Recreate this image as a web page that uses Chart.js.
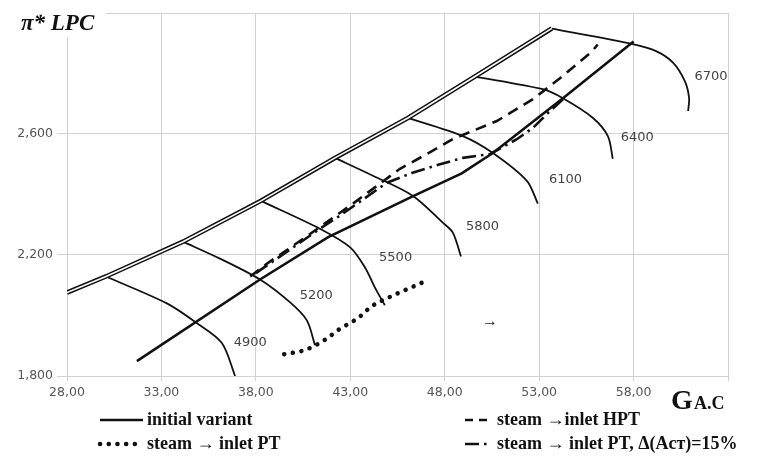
<!DOCTYPE html>
<html>
<head>
<meta charset="utf-8">
<script src="https://cdn.jsdelivr.net/npm/chart.js@4/dist/chart.umd.min.js"></script>
<style>
  body { margin: 0; background: #fff; }
  canvas { display: block; }
</style>
</head>
<body>
<canvas id="mapa" width="760" height="459"></canvas>
<script>
// osa X: G A.C, osa Y: pi* LPC
const xTicks = [28, 33, 38, 43, 48, 53, 58, 63];
const yTicks = [1.8, 2.2, 2.6, 3.0];

// granica pompazu (podwojna linia)
const surge = [[28, 2.076], [30.06, 2.129], [34.14, 2.244], [38.27, 2.379], [42.19, 2.521], [46.05, 2.653], [49.6, 2.790], [53.67, 2.949]];

// charakterystyki obrotow
const speedNames = ['4900', '5200', '5500', '5800', '6100', '6400', '6700'];
const n4900 = [[30.06, 2.129], [33.29, 2.040], [34.87, 1.975], [36.2, 1.909], [36.9, 1.80]];
const n5200 = [[34.14, 2.244], [36.1, 2.188], [38.22, 2.119], [39.8, 2.044], [40.7, 1.984], [41.13, 1.902]];
const n5500 = [[38.27, 2.379], [41.39, 2.287], [42.98, 2.226], [43.78, 2.159], [44.3, 2.093], [44.83, 2.034]];
const n5800 = [[42.19, 2.521], [44.2, 2.462], [46.3, 2.396], [47.9, 2.307], [48.43, 2.274], [48.86, 2.195]];
const n6100 = [[46.05, 2.653], [48.96, 2.593], [50.55, 2.537], [52.35, 2.445], [52.93, 2.370]];
const n6400 = [[49.6, 2.790], [53.2, 2.748], [54.26, 2.718], [55.85, 2.653], [56.64, 2.593], [56.9, 2.518]];
const n6700 = [[53.67, 2.948], [57.96, 2.897], [59.22, 2.873], [60.1, 2.835], [60.72, 2.774], [60.94, 2.719], [60.89, 2.676]];
const speedLines = [n4900, n5200, n5500, n5800, n6100, n6400, n6700];
// gdzie stoja napisy obrotow
const speedLabelPos = [[37.7, 1.909], [41.2, 2.067], [45.4, 2.192], [50.0, 2.294], [54.4, 2.448], [58.2, 2.587], [62.1, 2.791]];

// linie pracy
const initialVariant = [[31.7, 1.849], [38.22, 2.119], [41.83, 2.259], [46.3, 2.394], [48.9, 2.470], [50.55, 2.537], [54.26, 2.718], [58.0, 2.906]];
const steamHPT = [[37.7, 2.129], [38.6, 2.172], [40.7, 2.262], [43.1, 2.368], [45.63, 2.485], [47.06, 2.534], [48.43, 2.583], [50.76, 2.643], [52.67, 2.715], [54.1, 2.784], [55.8, 2.873], [56.1, 2.896]];
const steamPT = [[39.5, 1.872], [40.1, 1.878], [40.6, 1.885], [41.1, 1.899], [41.57, 1.916], [42.0, 1.935], [42.42, 1.955], [43.4, 1.99], [44.1, 2.03], [44.6, 2.047], [45.5, 2.073], [46.5, 2.100], [46.95, 2.113]];
const steamPT15 = [[38.0, 2.14], [41.4, 2.287], [42.45, 2.330], [44.94, 2.439], [46.3, 2.472], [47.75, 2.500], [48.96, 2.521], [50.4, 2.534], [51.8, 2.582], [52.69, 2.621], [53.46, 2.669], [54.26, 2.715]];
const arrowPos = [50.4, 1.978];

const legendLabels = ['initial variant', 'steam \u2192 inlet PT', 'steam \u2192inlet HPT', 'steam \u2192 inlet PT, \u0394(Ac\u0442)=15%'];

const pts = (arr) => arr.map(([x, y]) => ({ x, y }));
const fmtComma = (v, d) => v.toFixed(d).replace('.', ',');

const linia = (data, extra) => Object.assign({
  data: pts(data),
  borderColor: '#111',
  borderWidth: 1.8,
  pointRadius: 0,
  fill: false,
  tension: 0
}, extra);

// dataset 0 rysuje sie na koncu, wiec biala szczelina idzie pierwsza
const datasets = [
  linia(surge, { borderWidth: 1.6, borderColor: '#fff' }),
  linia(surge, { borderWidth: 4.6 }),
  ...speedLines.map((s) => linia(s, { tension: 0.3 })),
  linia(initialVariant, { borderWidth: 2.6 }),
  linia(steamHPT, { borderWidth: 2.6, borderDash: [11, 7] }),
  linia(steamPT15, { borderWidth: 2.6, borderDash: [14, 5, 2.5, 5] }),
  linia(steamPT, { borderWidth: 4.5, borderDash: [0.1, 8.6], borderCapStyle: 'round' })
];

const napisy = {
  id: 'napisy',
  afterDraw(chart) {
    const { ctx, scales: { x, y } } = chart;
    ctx.save();
    // numery obrotow
    ctx.fillStyle = '#444';
    ctx.font = '13px "DejaVu Sans"';
    ctx.textAlign = 'center';
    ctx.textBaseline = 'middle';
    speedNames.forEach((t, i) => {
      ctx.fillText(t, x.getPixelForValue(speedLabelPos[i][0]), y.getPixelForValue(speedLabelPos[i][1]));
    });
    ctx.fillStyle = '#222';
    ctx.font = '16px "Liberation Serif"';
    ctx.fillText('\u2192', x.getPixelForValue(arrowPos[0]), y.getPixelForValue(arrowPos[1]));

    // tytul osi Y
    ctx.fillStyle = '#fff';
    ctx.fillRect(0, 0, 106, 37);
    ctx.fillStyle = '#111';
    ctx.textAlign = 'left';
    ctx.textBaseline = 'alphabetic';
    ctx.font = 'bold italic 23px "Liberation Serif"';
    ctx.fillText('\u03c0* LPC', 21, 30);

    // tytul osi X
    ctx.font = 'bold 28px "Liberation Serif"';
    ctx.fillText('G', 671, 409);
    ctx.font = 'bold 18px "Liberation Serif"';
    ctx.fillText('A.C', 694, 409);

    // legenda
    ctx.font = 'bold 18px "Liberation Serif"';
    ctx.textBaseline = 'middle';
    const rows = [420, 444];
    const cols = [[100, 143, 147], [465, 490, 497]];
    const probki = [[], [0.1, 8.6], [8, 6], [14, 5, 2.5, 5]];
    legendLabels.forEach((t, i) => {
      const c = cols[Math.floor(i / 2)];
      const r = rows[i % 2];
      ctx.beginPath();
      ctx.setLineDash(probki[i]);
      ctx.lineWidth = i === 1 ? 4.5 : 2.6;
      ctx.lineCap = i === 1 ? 'round' : 'butt';
      ctx.strokeStyle = '#111';
      ctx.moveTo(c[0], r);
      ctx.lineTo(c[1], r);
      ctx.stroke();
      ctx.setLineDash([]);
      ctx.fillText(t, c[2], r);
    });
    ctx.restore();
  }
};

new Chart(document.getElementById('mapa'), {
  type: 'line',
  data: { datasets },
  options: {
    responsive: false,
    animation: false,
    layout: { padding: { top: 13, right: 32, left: 0, bottom: 0 } },
    plugins: { legend: { display: false }, tooltip: { enabled: false } },
    scales: {
      x: {
        type: 'linear',
        min: xTicks[0],
        max: xTicks[xTicks.length - 1],
        afterBuildTicks: (s) => { s.ticks = xTicks.map((v) => ({ value: v })); },
        afterFit: (s) => { s.height = 83; },
        ticks: {
          color: '#555',
          font: { family: 'DejaVu Sans', size: 12.5 },
          padding: 4,
          maxRotation: 0,
          callback: (v) => (v === 63 ? '' : fmtComma(v, 2))
        },
        grid: { color: '#d2d2d2', tickLength: 5 },
        border: { color: '#d2d2d2' }
      },
      y: {
        min: yTicks[0],
        max: yTicks[yTicks.length - 1],
        afterBuildTicks: (s) => { s.ticks = yTicks.map((v) => ({ value: v })); },
        afterFit: (s) => { s.width = 67; },
        ticks: {
          color: '#555',
          font: { family: 'DejaVu Sans', size: 12.5 },
          padding: 4,
          callback: (v) => (v >= 3 ? '' : fmtComma(v, 3))
        },
        grid: { color: '#d2d2d2', tickLength: 10 },
        border: { color: '#d2d2d2' }
      }
    }
  },
  plugins: [napisy]
});
</script>
</body>
</html>
